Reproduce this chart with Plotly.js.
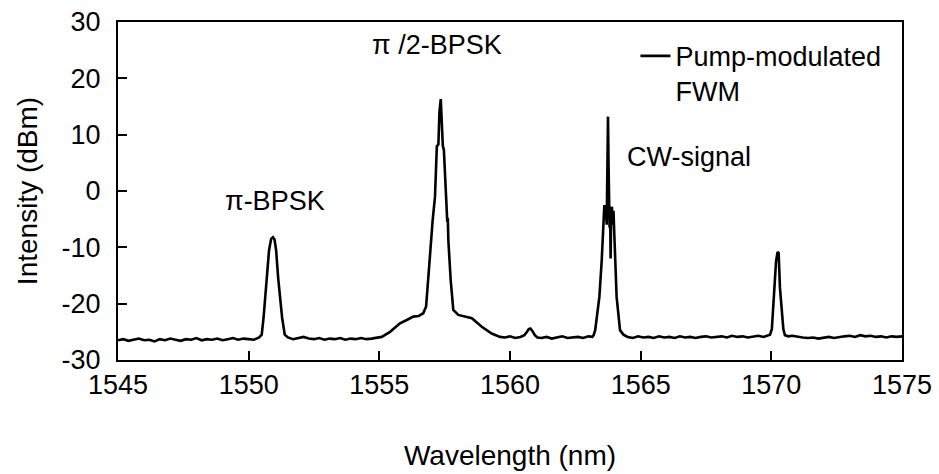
<!DOCTYPE html>
<html>
<head>
<meta charset="utf-8">
<script src="https://cdn.plot.ly/plotly-3.0.1.min.js"></script>
<style>html,body{margin:0;padding:0;background:#fff;}#chart{width:939px;height:474px;}</style>
</head>
<body>
<div id="chart"></div>
<script>
const wavelength = [
  1545.0,1545.2,1545.4,1545.6,1545.8,1546.0,1546.2,1546.4,1546.6,1546.8,
  1547.0,1547.2,1547.4,1547.6,1547.8,1548.0,1548.2,1548.4,1548.6,1548.8,
  1549.0,1549.2,1549.4,1549.6,1549.8,1550.0,1550.2,1550.4,
  1550.5,1550.57,1550.63,1550.71,1550.78,1550.86,1550.93,1550.99,1551.05,1551.13,1551.2,1551.28,1551.38,
  1551.5,1551.7,1551.9,1552.1,1552.3,1552.5,1552.7,1552.9,1553.1,1553.3,1553.5,1553.7,1553.9,1554.1,1554.3,1554.5,1554.7,1554.9,
  1555.09,1555.41,1555.79,1556.05,1556.3,1556.5,1556.68,1556.79,1556.94,1557.04,1557.13,1557.2,1557.26,1557.3,1557.35,1557.39,1557.43,1557.47,1557.52,1557.58,1557.6,1557.62,1557.64,1557.73,1557.83,1558.02,1558.3,1558.54,1558.92,1559.3,1559.62,
  1559.8,1560.0,1560.2,1560.4,
  1560.55,1560.65,1560.72,1560.78,1560.85,1560.95,1561.05,
  1561.2,1561.4,1561.6,1561.8,1562.0,1562.2,1562.4,1562.6,1562.8,1563.0,1563.15,
  1563.2,1563.26,1563.42,1563.51,1563.57,1563.61,1563.64,1563.67,1563.7,1563.72,1563.75,1563.77,1563.79,1563.81,1563.83,1563.85,1563.87,1563.9,1563.93,1563.96,1563.99,1564.02,1564.08,1564.21,1564.34,
  1564.5,1564.7,1564.9,1565.1,1565.3,1565.5,1565.7,1565.9,1566.1,1566.3,1566.5,1566.7,1566.9,1567.1,1567.3,1567.5,1567.7,1567.9,1568.1,1568.3,1568.5,1568.7,1568.9,1569.1,1569.3,1569.5,1569.7,1569.9,
  1569.95,1570.02,1570.07,1570.14,1570.18,1570.24,1570.28,1570.33,1570.4,1570.46,1570.52,
  1570.65,1570.8,1571.0,1571.2,1571.4,1571.6,1571.8,1572.0,1572.2,1572.4,1572.6,1572.8,1573.0,1573.2,1573.4,1573.6,1573.8,1574.0,1574.2,1574.4,1574.6,1574.8,1575.0
];
const intensity = [
  -26.5,-26.3,-26.6,-26.4,-26.2,-26.5,-26.4,-26.7,-26.3,-26.5,
  -26.2,-26.4,-26.6,-26.3,-26.4,-26.1,-26.5,-26.3,-26.4,-26.2,
  -26.5,-26.3,-26.1,-26.4,-26.2,-26.3,-26.4,-26.0,
  -25.5,-22.5,-19.4,-15.5,-10.5,-8.5,-8.2,-8.6,-10.5,-15.5,-19.4,-22.5,-25.5,
  -26.0,-26.3,-26.1,-25.9,-26.2,-26.3,-26.1,-26.4,-26.2,-26.3,-26.1,-26.4,-26.2,-26.3,-26.1,-26.3,-26.2,-26.0,
  -25.9,-25.0,-23.5,-22.9,-22.3,-22.2,-21.7,-20.5,-11.0,-5.2,-1.0,7.9,8.3,14.0,16.3,12.0,8.0,7.3,1.0,-5.2,-5.5,-4.8,-8.7,-15.8,-21.1,-22.0,-22.3,-22.6,-24.1,-25.3,-25.9,
  -26.0,-25.8,-26.1,-25.9,
  -25.6,-25.0,-24.5,-24.4,-24.8,-25.6,-26.0,
  -26.1,-25.9,-26.2,-26.0,-25.8,-26.1,-26.0,-25.9,-26.1,-25.8,-25.9,
  -25.6,-24.7,-18.8,-12.3,-7.5,-2.5,-5.0,-3.0,-6.0,2.0,13.2,5.0,-2.8,-6.5,-3.0,-12.0,-4.0,-2.8,-6.0,-3.5,-7.5,-12.3,-18.8,-24.7,-25.5,
  -25.9,-26.1,-25.8,-26.0,-25.9,-26.1,-25.8,-26.0,-25.9,-26.1,-25.8,-26.0,-25.9,-26.1,-25.9,-25.8,-26.0,-25.9,-25.8,-26.0,-25.7,-25.9,-25.8,-26.0,-25.9,-25.7,-25.9,-25.6,
  -25.5,-24.5,-20.8,-17.2,-12.5,-10.8,-11.0,-17.2,-20.8,-24.5,-25.6,
  -25.8,-25.7,-25.9,-26.0,-26.1,-26.0,-26.2,-26.0,-25.9,-26.1,-25.9,-25.8,-25.7,-25.9,-25.6,-25.8,-25.7,-25.9,-25.8,-26.0,-25.8,-25.9,-25.8
];
const xTicks = [1545,1550,1555,1560,1565,1570,1575];
const yTicks = [-30,-20,-10,0,10,20,30];
const labelText = ['π-BPSK','π /2-BPSK','CW-signal'];
const labelX = [1551.0,1557.2,1566.85];
const labelY = [-1.8,25.9,6.0];
const seriesName = 'Pump-modulated<br>FWM';

const FONT = 'Liberation Sans, Arial, Helvetica, sans-serif';
const TXT = 27;
const TTL = 28;

const trace = {
  x: wavelength, y: intensity, type: 'scatter', mode: 'lines',
  name: seriesName,
  line: {color: '#000', width: 2.6},
  showlegend: true
};

const layout = {
  width: 939, height: 474,
  margin: {l: 118, r: 37, t: 22, b: 114},
  paper_bgcolor: '#fff', plot_bgcolor: '#fff',
  font: {family: FONT, size: TXT, color: '#000'},
  showlegend: true,
  legend: {
    x: 0.66, y: 0.971, xanchor: 'left', yanchor: 'top',
    bgcolor: 'rgba(0,0,0,0)', borderwidth: 0,
    font: {family: FONT, size: TXT, color: '#000'},
    valign: 'top', itemwidth: 30
  },
  xaxis: {
    range: [1545, 1575], tickvals: xTicks, ticktext: xTicks.map(String),
    ticks: 'inside', ticklen: 9, tickwidth: 2, tickcolor: '#000',
    showline: true, linecolor: '#000', linewidth: 2, mirror: true,
    showgrid: false, zeroline: false,
    ticklabelstandoff: 0,
    tickfont: {family: FONT, size: TXT, color: '#000'},
    title: {text: 'Wavelength (nm)', font: {family: FONT, size: TTL, color: '#000'}, standoff: 46}
  },
  yaxis: {
    range: [-30, 30], tickvals: yTicks, ticktext: yTicks.map(String),
    ticks: 'inside', ticklen: 9, tickwidth: 2, tickcolor: '#000',
    showline: true, linecolor: '#000', linewidth: 2, mirror: true,
    showgrid: false, zeroline: false,
    ticklabelstandoff: 10,
    tickfont: {family: FONT, size: TXT, color: '#000'},
    title: {text: 'Intensity (dBm)', font: {family: FONT, size: TTL, color: '#000'}, standoff: 16}
  },
  annotations: labelText.map((t, i) => ({
    x: labelX[i], y: labelY[i], xref: 'x', yref: 'y', text: t, showarrow: false,
    font: {family: FONT, size: TXT, color: '#000'}
  }))
};

Plotly.newPlot('chart', [trace], layout, {displayModeBar: false, staticPlot: true});
</script>
</body>
</html>
